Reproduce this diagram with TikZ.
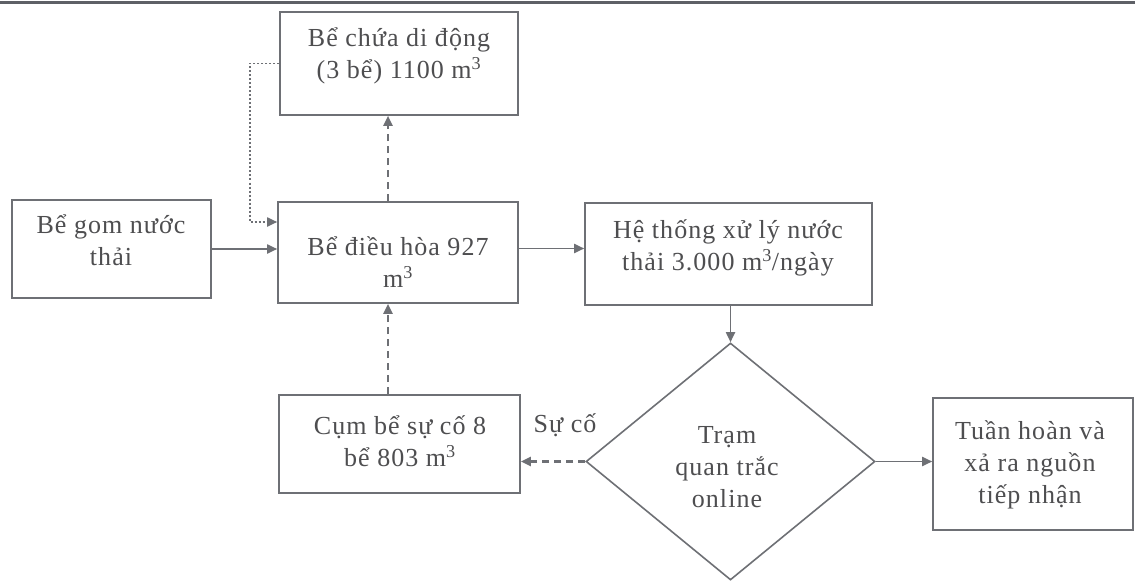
\documentclass[tikz,border=0pt]{standalone}
\usepackage{fontspec}
\setmainfont{Liberation Serif}[LetterSpace=4]
\usetikzlibrary{arrows.meta,shapes.geometric}
\definecolor{linegray}{HTML}{6E7075}
\definecolor{textgray}{HTML}{4E4E50}
\definecolor{rulegray}{HTML}{5E6066}
\begin{document}
\begin{tikzpicture}[x=1pt,y=-1pt,
  box/.style={draw=linegray, line width=1.6pt, rectangle, inner sep=0pt},
  txt/.style={text=textgray, font=\fontsize{26}{32}\selectfont, align=center, inner sep=0pt},
  conn/.style={draw=linegray, line width=1.8pt, -{Triangle[length=10pt,width=9pt]}},
  dashconn/.style={conn, line width=2.2pt, dash pattern=on 7pt off 5pt},
  dotconn/.style={conn, line width=1.8pt, dash pattern=on 2pt off 2pt}]
\useasboundingbox (0,0) rectangle (1135,583);
\fill[white] (0,0) rectangle (1135,583);
% top rule
\coordinate (rl) at (0,2.5);
\coordinate (rr) at (1135,2.5);
\draw[rulegray, line width=3pt] (rl) -- (rr);

% boxes
\node[box, minimum width=238pt, minimum height=103pt] (chua) at (399,63.5) {};
\node[box, minimum width=199pt, minimum height=98pt] (gom) at (111.5,249) {};
\node[box, minimum width=240pt, minimum height=101pt] (dieuhoa) at (398,252.5) {};
\node[box, minimum width=287pt, minimum height=102pt] (heth) at (728.5,254) {};
\node[box, minimum width=241pt, minimum height=98pt] (cum) at (399.5,444) {};
\node[box, minimum width=200pt, minimum height=132pt] (tuan) at (1033,464) {};
\node[draw=linegray, line width=1.6pt, diamond, inner sep=0pt,
      minimum width=289pt, minimum height=237pt] (diam) at (730.5,461.5) {};

% texts
\node[txt] (chuat) at (399,56) {Bể chứa di động\\(3 bể) 1100 m\textsuperscript{3}};
\node[txt] (gomt) at (111,240) {Bể gom nước\\thải};
\node[txt] (dieuhoat) at (398,262) {Bể điều hòa 927\\m\textsuperscript{3}};
\node[txt] (etht) at (728,248) {Hệ thống xử lý nước\\thải 3.000 m\textsuperscript{3}/ngày};
\node[txt] (cumt) at (400,441) {Cụm bể sự cố 8\\bể 803 m\textsuperscript{3}};
\node[txt] (diamt) at (727,467) {Trạm\\quan trắc\\online};
\node[txt] (tuant) at (1030,465) {Tuần hoàn và\\xả ra nguồn\\tiếp nhận};
\node[txt] (suco) at (565,425) {Sự cố};

% connectors
\draw[conn] (gom.east) -- (gom.east -| dieuhoa.west);
\draw[dotconn] (chua.west) -- ++(-29,0) |- ([yshift=30.5pt]dieuhoa.west);
\draw[dashconn] ([xshift=-10pt]dieuhoa.north) -- ([xshift=-10pt]dieuhoa.north |- chua.south);
\draw[conn] ([yshift=4pt]dieuhoa.east) -- ([yshift=4pt]dieuhoa.east -| heth.west);
\draw[conn] (heth.south -| diam.north) -- (diam.north);
\draw[dashconn] ([xshift=-11.5pt]cum.north) -- ([xshift=-11.5pt]cum.north |- dieuhoa.south);
\draw[dashconn] (diam.west) -- (diam.west -| cum.east);
\draw[conn] (diam.east) -- (diam.east -| tuan.west);
\end{tikzpicture}
\end{document}
